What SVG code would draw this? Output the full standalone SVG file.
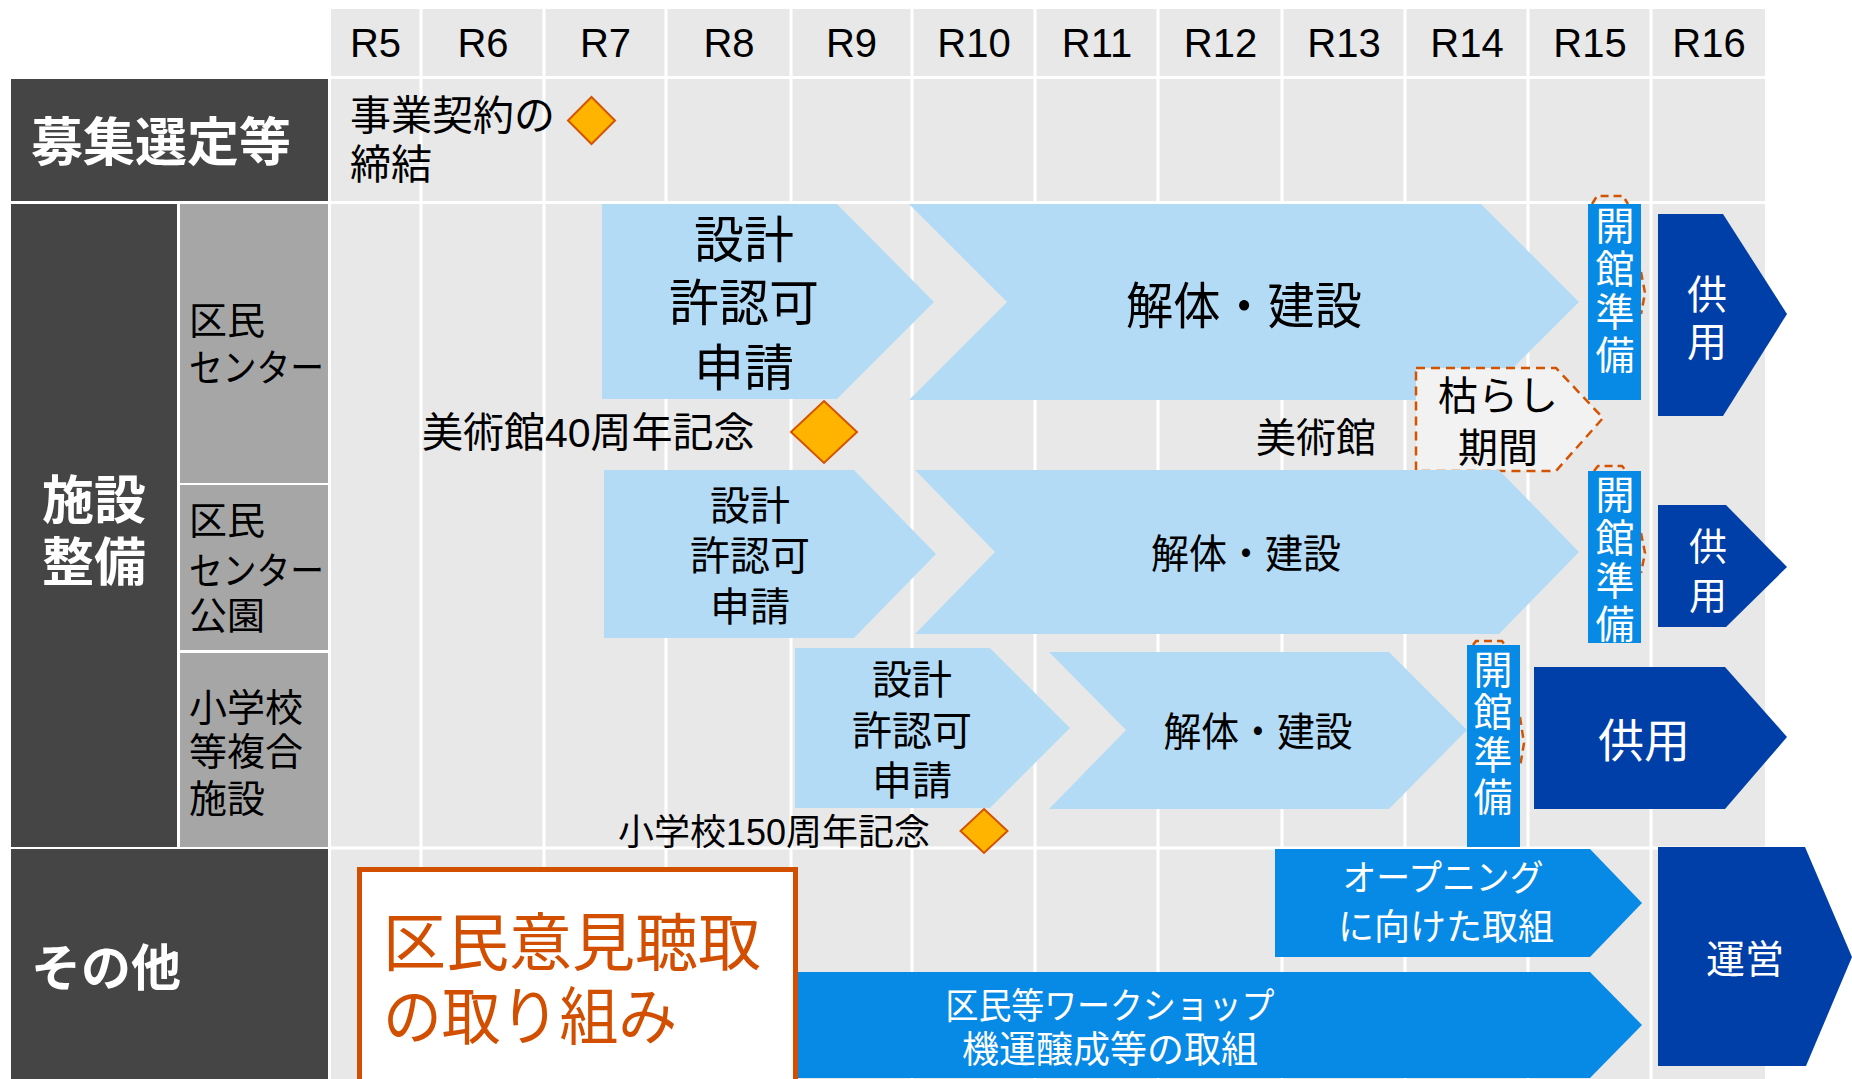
<svg xmlns="http://www.w3.org/2000/svg" width="1852" height="1079" viewBox="0 0 1852 1079">
<style>
text{font-family:'Liberation Sans','Noto Sans CJK JP',sans-serif}
.hdr{font-size:40px;text-anchor:middle;fill:#000}
.blk{fill:#000}
.big{font-weight:bold;fill:#fff;font-size:52px}
.sub{font-size:38px;fill:#000}
.lb{fill:#B4DBF5}
.mb{fill:#0789E6}
.db{fill:#003FA8}
.wt{fill:#fff;text-anchor:middle}
.bt{fill:#000;text-anchor:middle}
.dia{fill:#FFB400;stroke:#D35400;stroke-width:2}
.dash{fill:none;stroke:#D35400;stroke-width:2.5;stroke-dasharray:8 5}
.dk{fill:#454545}
.md{fill:#A6A6A6}
.gl{stroke:#fff;stroke-width:3}
</style>
<rect width="1852" height="1079" fill="#fff"/>
<g id="grid">
<rect x="331" y="9" width="1434" height="1070" fill="#E8E8E8"/>
<g class="gl">
<line x1="421" y1="9" x2="421" y2="1079"/>
<line x1="544" y1="9" x2="544" y2="1079"/>
<line x1="666" y1="9" x2="666" y2="1079"/>
<line x1="791" y1="9" x2="791" y2="1079"/>
<line x1="912" y1="9" x2="912" y2="1079"/>
<line x1="1035" y1="9" x2="1035" y2="1079"/>
<line x1="1158" y1="9" x2="1158" y2="1079"/>
<line x1="1282" y1="9" x2="1282" y2="1079"/>
<line x1="1405" y1="9" x2="1405" y2="1079"/>
<line x1="1528" y1="9" x2="1528" y2="1079"/>
<line x1="1651" y1="9" x2="1651" y2="1079"/>
<line x1="331" y1="77.5" x2="1765" y2="77.5"/>
<line x1="331" y1="202.5" x2="1765" y2="202.5"/>
<line x1="331" y1="848" x2="1765" y2="848"/>
</g>
<text class="hdr" x="375.5" y="57">R5</text>
<text class="hdr" x="483" y="57">R6</text>
<text class="hdr" x="605.5" y="57">R7</text>
<text class="hdr" x="729" y="57">R8</text>
<text class="hdr" x="851.5" y="57">R9</text>
<text class="hdr" x="974" y="57">R10</text>
<text class="hdr" x="1097" y="57">R11</text>
<text class="hdr" x="1220.5" y="57">R12</text>
<text class="hdr" x="1344" y="57">R13</text>
<text class="hdr" x="1467" y="57">R14</text>
<text class="hdr" x="1590" y="57">R15</text>
<text class="hdr" x="1709" y="57">R16</text>
</g>
<g id="row-labels">
<rect class="dk" x="11" y="79" width="317" height="122"/>
<text class="big" x="31" y="161">募集選定等</text>
<rect class="dk" x="11" y="204" width="166" height="643"/>
<text class="big" x="42" y="519">施設</text>
<text class="big" x="42" y="581">整備</text>
<rect class="md" x="180" y="204" width="148" height="279"/>
<text class="sub" x="189" y="334">区民</text>
<text class="sub" x="189" y="381" textLength="135" lengthAdjust="spacingAndGlyphs">センター</text>
<rect class="md" x="180" y="485" width="148" height="165"/>
<text class="sub" x="189" y="534">区民</text>
<text class="sub" x="189" y="584" textLength="135" lengthAdjust="spacingAndGlyphs">センター</text>
<text class="sub" x="189" y="629">公園</text>
<rect class="md" x="180" y="653" width="148" height="194"/>
<text class="sub" x="189" y="721">小学校</text>
<text class="sub" x="189" y="765">等複合</text>
<text class="sub" x="189" y="812">施設</text>
<rect class="dk" x="11" y="849" width="317" height="230"/>
<text class="big" x="31" y="986" style="font-size:50px">その他</text>
</g>
<g id="contract">
<text class="blk" x="350" y="130" font-size="41">事業契約の</text>
<text class="blk" x="350" y="179" font-size="41">締結</text>
<polygon class="dia" points="591.5,97 615,120.5 591.5,144 568,120.5"/>
</g>
<g id="center-design">
<polygon class="lb" points="602,204 837,204 934,302 837,399 602,399"/>
<text class="bt" x="744" y="258" font-size="50">設計</text>
<text class="bt" x="744" y="321" font-size="50">許認可</text>
<text class="bt" x="744" y="386" font-size="50">申請</text>
</g>
<g id="center-build">
<polygon class="lb" points="909,204 1481,204 1579,302 1481,400 909,400 1007,302"/>
<text class="bt" x="1244" y="324" font-size="50" textLength="236" lengthAdjust="spacingAndGlyphs">解体・建設</text>
</g>
<g id="center-prep">
<path class="dash" d="M1592,204 L1597,196 L1623,196 L1628,204 M1641,272 L1645,293 L1641,314"/>
<rect class="mb" x="1588" y="204" width="53" height="196"/>
<text class="wt" font-size="39"><tspan x="1615" y="240">開</tspan><tspan x="1615" y="283">館</tspan><tspan x="1615" y="326">準</tspan><tspan x="1615" y="369">備</tspan></text>
</g>
<g id="center-use">
<polygon class="db" points="1658,214 1723,214 1787,314 1723,416 1658,416"/>
<text class="wt" x="1707" y="309" font-size="40">供</text>
<text class="wt" x="1707" y="356" font-size="40">用</text>
</g>
<g id="museum-40">
<text class="blk" x="422" y="447" font-size="41">美術館40周年記念</text>
<polygon class="dia" points="824,401 857,432 824,463 791,432"/>
</g>
<g id="museum-drying">
<text class="blk" x="1376" y="452" font-size="40" text-anchor="end">美術館</text>
<polygon points="1416,368 1556,368 1603,418 1556,471 1416,471" fill="#F2F2F2" stroke="#D35400" stroke-width="2.5" stroke-dasharray="9 6"/>
<text class="bt" x="1498" y="410" font-size="40">枯らし</text>
<text class="bt" x="1498" y="462" font-size="40">期間</text>
</g>
<g id="park-design">
<polygon class="lb" points="604,470 854,470 936,554 854,638 604,638"/>
<text class="bt" x="750" y="520" font-size="40">設計</text>
<text class="bt" x="750" y="570" font-size="40">許認可</text>
<text class="bt" x="750" y="621" font-size="40">申請</text>
</g>
<g id="park-build">
<polygon class="lb" points="915,470 1499,470 1579,552 1499,634 915,634 995,552"/>
<text class="bt" x="1246" y="568" font-size="40" textLength="190" lengthAdjust="spacingAndGlyphs">解体・建設</text>
</g>
<g id="park-prep">
<path class="dash" d="M1594,471 L1598,466 L1622,466 L1626,471 M1641,533 L1645,553 L1641,573"/>
<rect class="mb" x="1588" y="471" width="53" height="172"/>
<text class="wt" font-size="39"><tspan x="1615" y="509">開</tspan><tspan x="1615" y="552">館</tspan><tspan x="1615" y="595">準</tspan><tspan x="1615" y="638">備</tspan></text>
</g>
<g id="park-use">
<polygon class="db" points="1658,505 1726,505 1787,567 1726,627 1658,627"/>
<text class="wt" x="1708" y="560" font-size="38">供</text>
<text class="wt" x="1708" y="609" font-size="38">用</text>
</g>
<g id="school-design">
<polygon class="lb" points="795,648 990,648 1070,728 990,808 795,808"/>
<text class="bt" x="912" y="694" font-size="40">設計</text>
<text class="bt" x="912" y="745" font-size="40">許認可</text>
<text class="bt" x="912" y="795" font-size="40">申請</text>
</g>
<g id="school-build">
<polygon class="lb" points="1049,652 1389,652 1467,730 1389,809 1049,809 1126,730"/>
<text class="bt" x="1258" y="746" font-size="40" textLength="189" lengthAdjust="spacingAndGlyphs">解体・建設</text>
</g>
<g id="school-prep">
<path class="dash" d="M1473,645 L1476,641 L1502,641 L1505,645 M1520,717 L1524,743 L1520,767"/>
<rect class="mb" x="1467" y="645" width="53" height="202"/>
<text class="wt" font-size="39"><tspan x="1493" y="684">開</tspan><tspan x="1493" y="726">館</tspan><tspan x="1493" y="769">準</tspan><tspan x="1493" y="811">備</tspan></text>
</g>
<g id="school-use">
<polygon class="db" points="1534,667 1725,667 1787,737 1725,809 1534,809"/>
<text class="wt" x="1644" y="757" font-size="46">供用</text>
</g>
<g id="school-150">
<text class="blk" x="618" y="845" font-size="36">小学校150周年記念</text>
<polygon class="dia" points="984,809 1007.5,831 984,853 960.5,831"/>
</g>
<g id="workshop">
<polygon class="mb" points="790,972 1590,972 1642,1025 1590,1078 790,1078"/>
<text class="wt" x="1110" y="1019" font-size="36" textLength="329" lengthAdjust="spacingAndGlyphs">区民等ワークショップ</text>
<text class="wt" x="1110" y="1063" font-size="37">機運醸成等の取組</text>
</g>
<g id="opening">
<polygon class="mb" points="1275,849 1590,849 1642,903 1590,957 1275,957"/>
<text class="wt" x="1443" y="891" font-size="36" textLength="201" lengthAdjust="spacingAndGlyphs">オープニング</text>
<text class="wt" x="1446" y="940" font-size="36">に向けた取組</text>
</g>
<g id="operation">
<polygon class="db" points="1658,847 1805,847 1852,957 1806,1066 1658,1066"/>
<text class="wt" x="1745" y="973" font-size="39">運営</text>
</g>
<g id="hearing">
<rect x="359.5" y="869.5" width="436" height="220" fill="#fff" stroke="#D24E00" stroke-width="5"/>
<text x="383" y="965" font-size="63" fill="#D24E00">区民意見聴取</text>
<text x="383" y="1039" font-size="63" fill="#D24E00" textLength="294" lengthAdjust="spacingAndGlyphs">の取り組み</text>
</g>
<g id="connectors"/>
</svg>
